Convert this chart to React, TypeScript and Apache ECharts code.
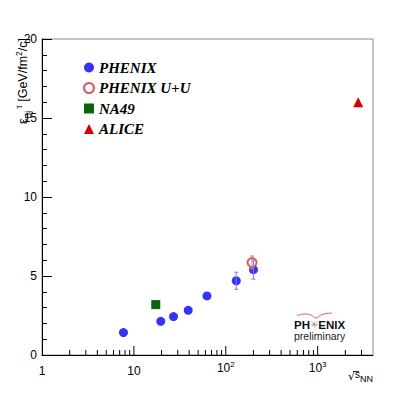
import React, { useEffect, useRef } from "react";
import * as echarts from "echarts";

// ---- data ----
const phenixX = [7.7, 19.6, 27, 39, 62.4, 130, 200];
const phenixY = [1.42, 2.13, 2.43, 2.83, 3.74, 4.70, 5.40];
const phenixErrX = [130, 200];
const phenixErrLow = [4.16, 4.80];
const phenixErrHigh = [5.24, 6.00];

const uuX = [193];
const uuY = [5.85];
const uuErrLow = [5.45];
const uuErrHigh = [6.27];

const na49X = [17.3];
const na49Y = [3.19];

const aliceX = [2760];
const aliceY = [16.0];

const seriesNames = ["PHENIX", "PHENIX U+U", "NA49", "ALICE"];
const yTicks = [0, 5, 10, 15, 20];
const xDecades = [1, 10, 100, 1000];

const xTickValues: number[] = [];
xDecades.forEach((d) => {
  for (let k = 1; k <= 9; k++) {
    const v = d * k;
    if (v > 1 && v < 4000) xTickValues.push(v);
  }
});

const isPow10 = (v: number) => {
  const e = Math.round(Math.log10(v));
  return Math.abs(v - Math.pow(10, e)) < 1e-6 * v;
};

const BLUE = "#3434f4";
const RED_OPEN = "#d85a5a";
const GREEN = "#0a640a";
const RED = "#d20000";

export default function App() {
  const ref = useRef<HTMLDivElement>(null);
  useEffect(() => {
    if (!ref.current) return;
    const chart = echarts.init(ref.current, undefined, { renderer: "svg" });

    const errRender = (color: string) => (params: any, api: any) => {
      const x = api.value(0);
      const lo = api.coord([x, api.value(1)]);
      const hi = api.coord([x, api.value(2)]);
      const cw = 2;
      return {
        type: "group",
        children: [
          { type: "line", shape: { x1: lo[0], y1: lo[1], x2: hi[0], y2: hi[1] }, style: { stroke: color, lineWidth: 1 } },
          { type: "line", shape: { x1: lo[0] - cw, y1: lo[1], x2: lo[0] + cw, y2: lo[1] }, style: { stroke: color, lineWidth: 1 } },
          { type: "line", shape: { x1: hi[0] - cw, y1: hi[1], x2: hi[0] + cw, y2: hi[1] }, style: { stroke: color, lineWidth: 1 } },
        ],
      };
    };

    const option: any = {
      animation: false,
      backgroundColor: "#fff",
      grid: {
        left: 42,
        right: 42,
        top: 39,
        bottom: 40,
        show: true,
        borderColor: "#8a8a8a",
        borderWidth: 1,
        backgroundColor: "#fff",
      },
      legend: {
        data: seriesNames,
        orient: "vertical",
        left: 78,
        top: 55,
        itemWidth: 10,
        itemHeight: 10,
        itemGap: 5.5,
        textStyle: {
          fontFamily: "Liberation Serif",
          fontWeight: "bold",
          fontStyle: "italic",
          fontSize: 15,
          lineHeight: 15,
          color: "#000",
        },
      },
      xAxis: {
        type: "log",
        logBase: 10,
        min: 1,
        max: 4000,
        splitNumber: 4,
        axisLine: { show: true, lineStyle: { color: "#000", width: 1 } },
        axisTick: { show: false },
        splitLine: { show: false },
        axisLabel: {
          margin: 5,
          formatter: (v: number) => {
            if (!isPow10(v)) return "";
            const e = Math.round(Math.log10(v));
            if (e === 0) return "{p|1}";
            if (e === 1) return "{p|10}";
            return "{n|10}{sup|" + e + "}";
          },
          rich: {
            p: { fontFamily: "Liberation Sans", fontSize: 12, lineHeight: 22, color: "#000" },
            n: { fontFamily: "Liberation Sans", fontSize: 12, lineHeight: 16, color: "#000" },
            sup: { fontFamily: "Liberation Sans", fontSize: 8, lineHeight: 8, verticalAlign: "top", color: "#000" },
          },
        },
      },
      yAxis: {
        type: "value",
        min: yTicks[0],
        max: yTicks[yTicks.length - 1],
        interval: 5,
        axisLine: { show: true, lineStyle: { color: "#000", width: 1 } },
        axisTick: { show: true, inside: true, length: 10, lineStyle: { color: "#000" } },
        minorTick: { show: true, splitNumber: 5, length: 5, lineStyle: { color: "#000" } },
        splitLine: { show: false },
        axisLabel: {
          margin: 5,
          fontFamily: "Liberation Sans",
          fontSize: 12,
          color: "#000",
        },
      },
      series: [
        {
          type: "custom",
          name: "xticks",
          silent: true,
          renderItem: (params: any, api: any) => {
            const v = api.value(0);
            const p = api.coord([v, 0]);
            const len = isPow10(v) ? 9 : 5;
            return {
              type: "line",
              shape: { x1: p[0], y1: p[1], x2: p[0], y2: p[1] - len },
              style: { stroke: "#000", lineWidth: 1 },
            };
          },
          data: xTickValues.map((v) => [v, 0]),
          z: 1,
        },
        {
          type: "scatter",
          name: "PHENIX",
          symbol: "circle",
          symbolSize: 9,
          itemStyle: { color: BLUE, opacity: 1 },
          data: phenixX.map((x, i) => [x, phenixY[i]]),
          z: 3,
        },
        {
          type: "scatter",
          name: "PHENIX U+U",
          symbol: "emptyCircle",
          symbolSize: 9,
          itemStyle: { color: RED_OPEN, borderWidth: 1, opacity: 1 },
          data: uuX.map((x, i) => [x, uuY[i]]),
          z: 4,
        },
        {
          type: "scatter",
          name: "NA49",
          symbol: "rect",
          symbolSize: 9,
          itemStyle: { color: GREEN, opacity: 1 },
          data: na49X.map((x, i) => [x, na49Y[i]]),
          z: 3,
        },
        {
          type: "scatter",
          name: "ALICE",
          symbol: "triangle",
          symbolSize: 10,
          itemStyle: { color: RED, opacity: 1 },
          data: aliceX.map((x, i) => [x, aliceY[i]]),
          z: 3,
        },
        {
          type: "custom",
          name: "phenixErr",
          silent: true,
          renderItem: errRender("#7c7cf0"),
          data: phenixErrX.map((x, i) => [x, phenixErrLow[i], phenixErrHigh[i]]),
          z: 5,
        },
        {
          type: "custom",
          name: "uuErr",
          silent: true,
          renderItem: errRender("#e07070"),
          data: uuX.map((x, i) => [x, uuErrLow[i], uuErrHigh[i]]),
          z: 5,
        },
      ],
      graphic: [
        {
          type: "text",
          x: 23,
          y: 38,
          rotation: Math.PI / 2,
          style: {
            text: "{e|ε}{sub|Bj}{sup| τ}{n| [GeV/fm}{sup|2}{n|/c]}",
            textAlign: "right",
            textVerticalAlign: "middle",
            fill: "#000",
            rich: {
              e: { fontFamily: "Liberation Sans", fontSize: 12.5, lineHeight: 18, fill: "#000" },
              n: { fontFamily: "Liberation Sans", fontSize: 12.5, lineHeight: 18, fill: "#000" },
              sub: { fontFamily: "Liberation Sans", fontSize: 8.5, lineHeight: 8, verticalAlign: "bottom", fill: "#000" },
              sup: { fontFamily: "Liberation Sans", fontSize: 8.5, lineHeight: 8, verticalAlign: "top", fill: "#000" },
            },
          },
        },
        {
          type: "text",
          x: 373,
          y: 376,
          style: {
            text: "{r|√}{s|s}{sub|NN}",
            textAlign: "right",
            textVerticalAlign: "middle",
            fill: "#000",
            rich: {
              r: { fontFamily: "DejaVu Sans", fontSize: 11, lineHeight: 14, fill: "#000" },
              s: { fontFamily: "Liberation Sans", fontSize: 10, lineHeight: 14, verticalAlign: "top", fill: "#000" },
              sub: { fontFamily: "Liberation Sans", fontSize: 9, lineHeight: 9, verticalAlign: "bottom", fill: "#000" },
            },
          },
        },
        {
          type: "line",
          shape: { x1: 353, y1: 371.5, x2: 359, y2: 371.5 },
          style: { stroke: "#000", lineWidth: 0.8 },
        },
        {
          type: "text",
          x: 294,
          y: 324.5,
          style: {
            text: "{b|PH}{s|✳}{b|ENIX}",
            textVerticalAlign: "middle",
            rich: {
              b: { fontFamily: "Liberation Sans", fontWeight: "bold", fontSize: 11.5, fill: "#111" },
              s: { fontFamily: "DejaVu Sans", fontSize: 10, fill: "#999" },
            },
          },
        },
        {
          type: "text",
          x: 294,
          y: 335.5,
          style: {
            text: "preliminary",
            font: "10.5px 'Liberation Sans'",
            fill: "#222",
            textVerticalAlign: "middle",
          },
        },
        {
          type: "polyline",
          shape: {
            points: [
              [297, 315.5],
              [304, 314],
              [311, 315],
              [316, 318],
              [322, 314.5],
              [332, 313],
            ],
            smooth: 0.4,
          },
          style: { stroke: "#e03030", lineWidth: 0.8, fill: "none" },
        },
      ],
    };
    chart.setOption(option);
    return () => chart.dispose();
  }, []);
  return (
    <div
      ref={ref}
      style={{ position: "fixed", left: 0, top: 0, width: 415, height: 395 }}
    />
  );
}
